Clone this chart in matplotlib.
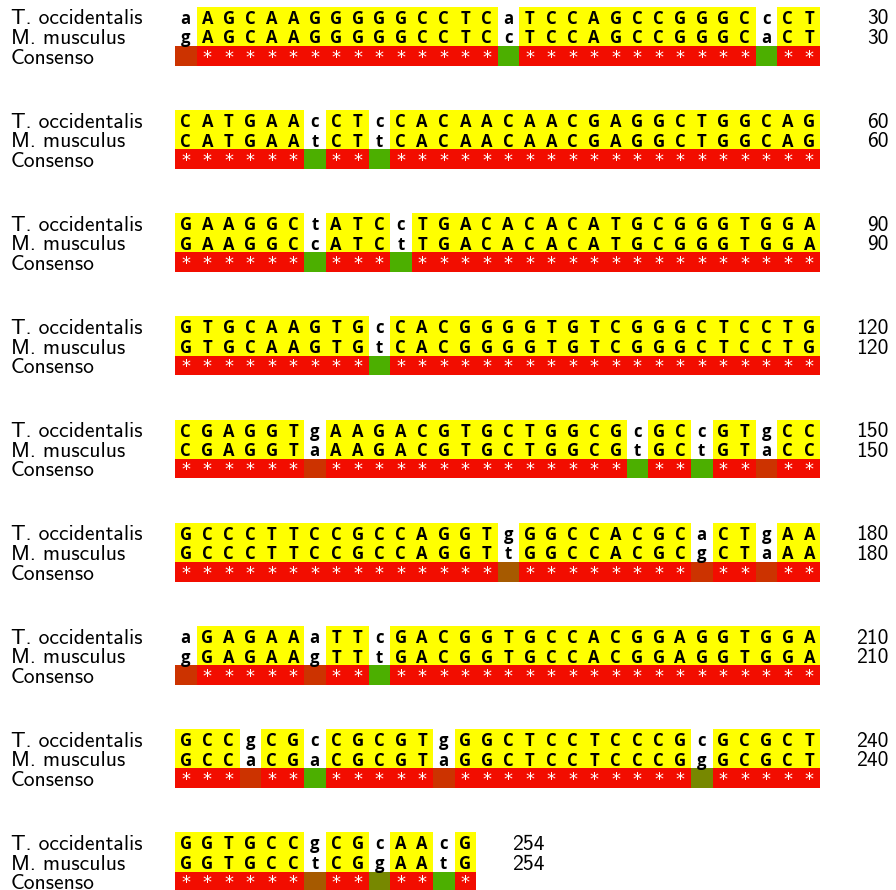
import matplotlib
matplotlib.use("Agg")
import matplotlib.pyplot as plt
from matplotlib.patches import Rectangle

# alignment data (one string per printed line of 30 bases)
species = ["T. occidentalis", "M. musculus"]
consensus_label = "Consenso"
occidentalis = [
    "AAGCAAGGGGGCCTCATCCAGCCGGGCCCT",
    "CATGAACCTCCACAACAACGAGGCTGGCAG",
    "GAAGGCTATCCTGACACACATGCGGGTGGA",
    "GTGCAAGTGCCACGGGGTGTCGGGCTCCTG",
    "CGAGGTGAAGACGTGCTGGCGCGCCGTGCC",
    "GCCCTTCCGCCAGGTGGGCCACGCACTGAA",
    "AGAGAAATTCGACGGTGCCACGGAGGTGGA",
    "GCCGCGCCGCGTGGGCTCCTCCCGCGCGCT",
    "GGTGCCGCGCAACG",
]
musculus = [
    "GAGCAAGGGGGCCTCCTCCAGCCGGGCACT",
    "CATGAATCTTCACAACAACGAGGCTGGCAG",
    "GAAGGCCATCTTGACACACATGCGGGTGGA",
    "GTGCAAGTGTCACGGGGTGTCGGGCTCCTG",
    "CGAGGTAAAGACGTGCTGGCGTGCTGTACC",
    "GCCCTTCCGCCAGGTTGGCCACGCGCTAAA",
    "GGAGAAGTTTGACGGTGCCACGGAGGTGGA",
    "GCCACGACGCGTAGGCTCCTCCCGGGCGCT",
    "GGTGCCTCGGAATG",
]

# colours
MATCH_BG = "#FFFF00"
IDENT_BG = "#F20D00"
SUBST_COLORS = {"AG": "#CC3300", "CT": "#4CAF00", "AC": "#4CAF00",
                "GT": "#A65A00", "CG": "#778800", "AT": "#888800"}

# layout in pixels
W, H = 896, 890
CELL_PX = 21.5
LEFT_PX = 175
ROW_PX = 19.6
TOP_PX = 6.8
BLOCK_PX = 103.2

fig = plt.figure(figsize=(W / 100, H / 100), dpi=100)
ax = fig.add_axes([0, 0, 1, 1])
ax.set_xlim(-LEFT_PX / CELL_PX, (W - LEFT_PX) / CELL_PX)
ax.set_ylim((H - TOP_PX) / ROW_PX, -TOP_PX / ROW_PX)
ax.axis("off")

pitch = BLOCK_PX / ROW_PX
label_x = (11 - LEFT_PX) / CELL_PX
label_font = dict(family="cmss10", fontsize=15.5, color="black")
base_font = dict(family="Open Sans", fontweight="bold", fontsize=12, color="black")

count = 0
for b, (s1, s2) in enumerate(zip(occidentalis, musculus)):
    y0 = b * pitch
    count += len(s1)
    for r, name in enumerate(species + [consensus_label]):
        ax.text(label_x, y0 + r + 0.9, name, ha="left", va="baseline", **label_font)
    for r in range(2):
        ax.text(len(s1) + 3.2, y0 + r + 0.9, str(count), ha="right", va="baseline", **label_font)

    for i, (a, c) in enumerate(zip(s1, s2)):
        if a == c:
            ax.add_patch(Rectangle((i, y0), 1, 2, facecolor=MATCH_BG, linewidth=0, antialiased=False))
            ax.add_patch(Rectangle((i, y0 + 2), 1, 1, facecolor=IDENT_BG, linewidth=0, antialiased=False))
            ax.text(i + 0.5, y0 + 2 + 0.85, "*", ha="center", va="baseline", color="white",
                    family="DejaVu Sans", fontsize=13)
            t1, t2 = a, c
        else:
            key = "".join(sorted(a + c))
            ax.add_patch(Rectangle((i, y0 + 2), 1, 1, facecolor=SUBST_COLORS[key], linewidth=0, antialiased=False))
            t1, t2 = a.lower(), c.lower()
        ax.text(i + 0.5, y0 + 0.87, t1, ha="center", va="baseline", **base_font)
        ax.text(i + 0.5, y0 + 1.87, t2, ha="center", va="baseline", **base_font)

fig.savefig("out.png", dpi=100)
